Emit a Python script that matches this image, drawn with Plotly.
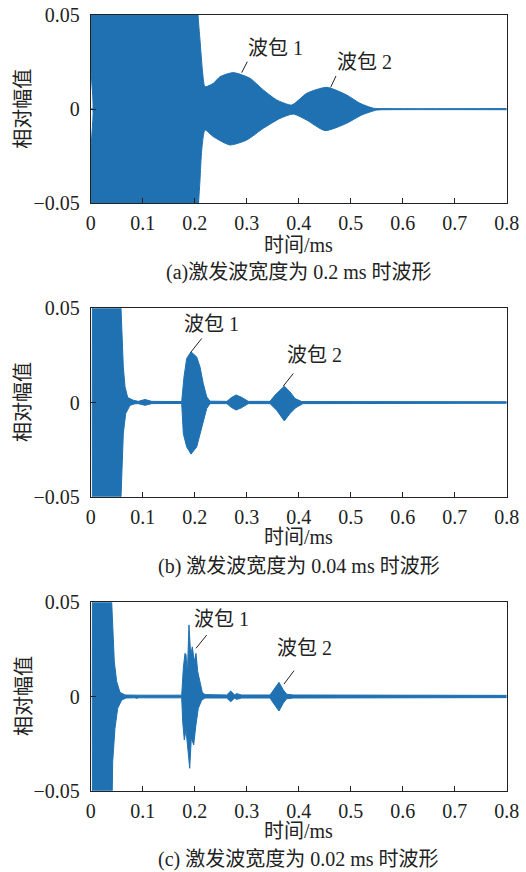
import plotly.graph_objects as go

# ---------------- data (envelopes) ----------------
X_TICKS = [0, 0.1, 0.2, 0.3, 0.4, 0.5, 0.6, 0.7, 0.8]
X_TICK_LABELS = ["0", "0.1", "0.2", "0.3", "0.4", "0.5", "0.6", "0.7", "0.8"]
Y_TICKS = [-0.05, 0, 0.05]
Y_TICK_LABELS = ["\u22120.05", "0", "0.05"]

# panel (a)
A_UP_T = [0, 0.0038, 0.004, 0.2055, 0.2065, 0.2102, 0.2154, 0.2198, 0.2358, 0.2487, 0.2742,
          0.3063, 0.3319, 0.3577, 0.3865, 0.4154, 0.4538, 0.4923, 0.5179, 0.5435, 0.56, 0.8]
A_UP_V = [0, 0, 0.08, 0.08, 0.05, 0.0367, 0.019, 0.0119, 0.0137, 0.0172, 0.0194,
          0.0164, 0.0102, 0.0049, 0.0022, 0.0084, 0.0116, 0.0075, 0.0031, 0.0005, 0.0003, 0.0003]
A_LO_T = [0, 0.0038, 0.004, 0.2055, 0.2075, 0.2102, 0.2135, 0.2198, 0.2358, 0.2679, 0.3,
          0.3319, 0.364, 0.3896, 0.4154, 0.4506, 0.4923, 0.5212, 0.55, 0.57, 0.8]
A_LO_V = [0, 0, -0.08, -0.08, -0.05, -0.0376, -0.0217, -0.0111, -0.0146, -0.019, -0.0164,
          -0.0102, -0.0049, -0.0026, -0.0058, -0.0114, -0.0075, -0.0031, -0.0005, -0.0003, -0.0003]

# panel (b)
B_UP_T = [0, 0.003, 0.0035, 0.0578, 0.0583, 0.0627, 0.066, 0.0712, 0.0819, 0.0915, 0.1044, 0.1173,
          0.175, 0.1794, 0.1846, 0.1929, 0.2038, 0.2102, 0.2165, 0.2231, 0.2294,
          0.262, 0.27, 0.2794, 0.29, 0.303,
          0.3448, 0.3544, 0.3723, 0.3833, 0.3929, 0.4058, 0.8]
B_UP_V = [0, 0, 0.08, 0.08, 0.05, 0.0189, 0.0083, 0.0026, 0.0012, 0.0006, 0.0016, 0.0006,
          0.0005, 0.0136, 0.0234, 0.0269, 0.0242, 0.0189, 0.0101, 0.003, 0.0007,
          0.0006, 0.0025, 0.004, 0.0028, 0.0006,
          0.0006, 0.0039, 0.0087, 0.0056, 0.0021, 0.0005, 0.0004]
B_LO_T = [0, 0.003, 0.0035, 0.0578, 0.0583, 0.0627, 0.0673, 0.0756, 0.085, 0.0915, 0.1044, 0.1173,
          0.175, 0.1781, 0.1846, 0.1929, 0.2038, 0.2135, 0.2231, 0.2294,
          0.262, 0.27, 0.2794, 0.29, 0.303,
          0.3448, 0.3577, 0.3723, 0.3833, 0.3942, 0.408, 0.8]
B_LO_V = [0, 0, -0.08, -0.08, -0.05, -0.0165, -0.0059, -0.0015, -0.0007, -0.0006, -0.0015, -0.0006,
          -0.0005, -0.0165, -0.0236, -0.0274, -0.0236, -0.013, -0.0032, -0.0006,
          -0.0006, -0.0025, -0.004, -0.0028, -0.0006,
          -0.0006, -0.0041, -0.0098, -0.0058, -0.0028, -0.0006, -0.0004]

# panel (c)
C_UP_T = [0, 0.003, 0.0035, 0.04, 0.0404, 0.0423, 0.0454, 0.05, 0.0563, 0.066, 0.085, 0.0885, 0.092,
          0.175, 0.1781, 0.1813, 0.1833, 0.1858, 0.189, 0.1923, 0.1954, 0.1992, 0.2025, 0.2058,
          0.2102, 0.2146, 0.2198, 0.2615, 0.2692, 0.2765, 0.2808, 0.2904,
          0.3448, 0.3512, 0.3621, 0.3704, 0.3769, 0.39, 0.69, 0.703, 0.715, 0.8]
C_UP_V = [0, 0, 0.08, 0.08, 0.05, 0.0362, 0.0185, 0.0079, 0.0022, 0.0008, 0.0007, 0.001, 0.0007,
          0.0007, 0.015, 0.0229, 0.0223, 0.0114, 0.038, 0.022, 0.0264, 0.0185, 0.0229, 0.0132,
          0.007, 0.0022, 0.001, 0.0008, 0.0029, 0.0009, 0.0015, 0.0008,
          0.0008, 0.0035, 0.0075, 0.0035, 0.0012, 0.0008, 0.0006, 0.0008, 0.0006, 0.0006]
C_LO_T = [0, 0.003, 0.0035, 0.041, 0.0415, 0.0423, 0.0467, 0.0519, 0.0596, 0.068, 0.085, 0.0885, 0.092,
          0.175, 0.1769, 0.18, 0.1833, 0.1865, 0.1904, 0.1935, 0.1981, 0.2019, 0.2069, 0.2135,
          0.2198, 0.2615, 0.2692, 0.2765, 0.2808, 0.2904,
          0.3448, 0.3512, 0.3621, 0.3704, 0.3769, 0.39, 0.69, 0.703, 0.715, 0.8]
C_LO_V = [0, 0, -0.08, -0.08, -0.05, -0.0346, -0.0169, -0.0063, -0.0019, -0.0008, -0.0007, -0.001, -0.0007,
          -0.0007, -0.0134, -0.0231, -0.0178, -0.0275, -0.0381, -0.022, -0.0257, -0.016, -0.0063, -0.0019,
          -0.0008, -0.0008, -0.0028, -0.0009, -0.0015, -0.0008,
          -0.0008, -0.0035, -0.0077, -0.0035, -0.0012, -0.0008, -0.0006, -0.0008, -0.0006, -0.0006]

# labels (time, value, text) and leader lines (t0, v0, t1, v1)
A_LABELS = [(0.355, 0.0323, "波包 1"), (0.5256, 0.0249, "波包 2")]
A_LEADERS = [(0.3012, 0.0252, 0.2904, 0.0194), (0.4717, 0.0176, 0.4615, 0.0116)]
B_LABELS = [(0.2327, 0.0419, "波包 1"), (0.4313, 0.0251, "波包 2")]
B_LEADERS = [(0.2135, 0.034, 0.1923, 0.0266), (0.3896, 0.0154, 0.3704, 0.0087)]
C_LABELS = [(0.2519, 0.041, "波包 1"), (0.4102, 0.0256, "波包 2")]
C_LEADERS = [(0.2231, 0.0326, 0.2025, 0.0256), (0.391, 0.0137, 0.3717, 0.0066)]

X_TITLE = "时间/ms"
Y_TITLE = "相对幅值"
CAPTIONS = ["(a)激发波宽度为 0.2 ms 时波形",
            "(b) 激发波宽度为 0.04 ms 时波形",
            "(c) 激发波宽度为 0.02 ms 时波形"]

# ---------------- styling ----------------
W, H = 526, 872
BLUE = "#1f71b2"
TXT = "#222222"
FONT = "Liberation Serif, Times New Roman, Noto Sans CJK SC, serif"
FS = 20

X_L, X_R = 90.7, 506.7
PANELS = [  # (top px, bottom px, x-title px, caption px)
    (15.0, 203.3, 245.0, 272.7),
    (308.3, 496.7, 536.7, 566.0),
    (602.3, 790.7, 830.7, 859.3),
]
SERIES = [
    (A_UP_T, A_UP_V, A_LO_T, A_LO_V, A_LABELS, A_LEADERS, "spline"),
    (B_UP_T, B_UP_V, B_LO_T, B_LO_V, B_LABELS, B_LEADERS, "linear"),
    (C_UP_T, C_UP_V, C_LO_T, C_LO_V, C_LABELS, C_LEADERS, "linear"),
]

fig = go.Figure()
layout = dict(
    width=W, height=H, margin=dict(l=0, r=0, t=0, b=0, autoexpand=False),
    paper_bgcolor="white", plot_bgcolor="white", showlegend=False,
    font=dict(family=FONT, size=FS, color=TXT),
)
annotations = []
shapes = []

for i, ((top, bot, xt_y, cap_y), (ut, uv, lt, lv, labels, leaders, shape)) in enumerate(zip(PANELS, SERIES)):
    n = "" if i == 0 else str(i + 1)
    xa, ya = "x" + n, "y" + n
    fig.add_trace(go.Scatter(x=lt, y=lv, mode="lines", xaxis=xa, yaxis=ya,
                             line=dict(color=BLUE, width=1, shape=shape, smoothing=0.6),
                             hoverinfo="skip"))
    fig.add_trace(go.Scatter(x=ut, y=uv, mode="lines", xaxis=xa, yaxis=ya,
                             line=dict(color=BLUE, width=1, shape=shape, smoothing=0.6),
                             fill="tonexty", fillcolor=BLUE, hoverinfo="skip"))
    layout["xaxis" + n] = dict(
        domain=[X_L / W, X_R / W], anchor=ya, range=[0, 0.8], automargin=False,
        tickvals=X_TICKS, ticktext=X_TICK_LABELS, ticks="inside", ticklen=5,
        tickcolor=TXT, tickwidth=1, showline=True, linecolor=TXT, linewidth=1,
        mirror=True, showgrid=False, zeroline=False, ticklabelstandoff=2,
        tickfont=dict(family=FONT, size=FS, color=TXT),
    )
    layout["yaxis" + n] = dict(
        domain=[1 - bot / H, 1 - top / H], anchor=xa, range=[-0.05, 0.05], automargin=False,
        tickvals=Y_TICKS, ticktext=Y_TICK_LABELS, ticks="inside", ticklen=5,
        tickcolor=TXT, tickwidth=1, showline=True, linecolor=TXT, linewidth=1,
        mirror=True, showgrid=False, zeroline=False, ticklabelstandoff=6,
        tickfont=dict(family=FONT, size=FS, color=TXT),
    )
    for (t, v, txt) in labels:
        annotations.append(dict(x=t, y=v, xref=xa, yref=ya, text=txt, showarrow=False,
                                font=dict(family=FONT, size=FS, color=TXT)))
    for (t0, v0, t1, v1) in leaders:
        shapes.append(dict(type="line", xref=xa, yref=ya, x0=t0, y0=v0, x1=t1, y1=v1,
                           line=dict(color=TXT, width=1)))
    xc = (X_L + X_R) / 2 / W
    annotations.append(dict(x=xc, y=1 - xt_y / H, xref="paper", yref="paper", text=X_TITLE,
                            showarrow=False, xanchor="center", yanchor="middle",
                            font=dict(family=FONT, size=FS, color=TXT)))
    annotations.append(dict(x=xc, y=1 - cap_y / H, xref="paper", yref="paper", text=CAPTIONS[i],
                            showarrow=False, xanchor="center", yanchor="middle",
                            font=dict(family=FONT, size=FS, color=TXT)))
    annotations.append(dict(x=23.5 / W, y=1 - (top + bot) / 2 / H, xref="paper", yref="paper",
                            text=Y_TITLE, textangle=-90, showarrow=False,
                            xanchor="center", yanchor="middle",
                            font=dict(family=FONT, size=FS, color=TXT)))

layout["annotations"] = annotations
layout["shapes"] = shapes
fig.update_layout(**layout)
fig.write_html("out.html")
